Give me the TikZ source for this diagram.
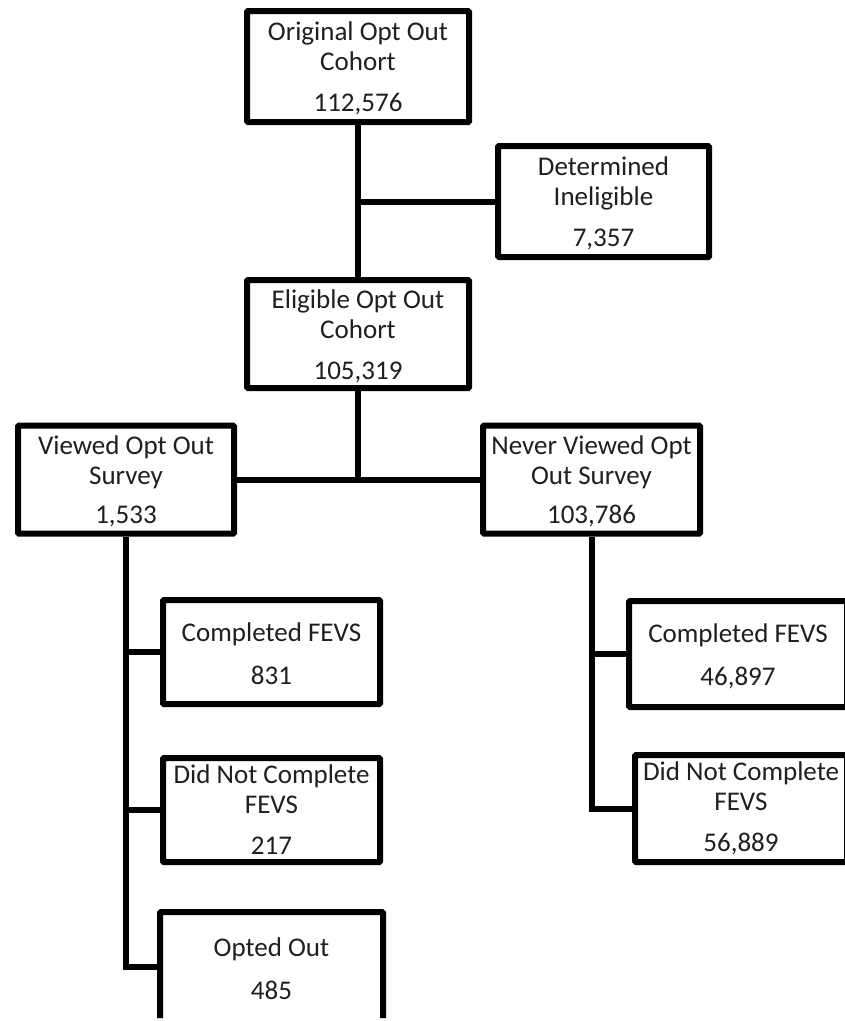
\documentclass[tikz,border=0pt]{standalone}
\usepackage{fontspec}
\setmainfont{Carlito}
\newcommand{\toppad}{\mbox{}\\[-7pt]}
\begin{document}
\begin{tikzpicture}[x=1pt,y=-1pt,
  box/.style={draw=black, line width=6pt, rounded corners=1pt, fill=white,
    inner sep=0pt, align=center, text=black!88,
    font=\fontsize{27}{30}\selectfont},
  nobox/.style={box, draw=none, fill=none},
  link/.style={draw=black, line width=6pt, line join=miter}]
\useasboundingbox (0,0) rectangle (845,1021);
\clip (0,0) rectangle (845,1021);
% nodes
\node[box, minimum width=222pt, minimum height=111pt] (orig) at (358,66.5)
  {\toppad Original Opt Out\\Cohort\\[11pt]112,576};
\node[box, minimum width=211pt, minimum height=111pt] (det) at (603.5,201.5)
  {\toppad Determined\\Ineligible\\[11pt]7,357};
\node[box, minimum width=222pt, minimum height=108pt] (elig) at (358,334)
  {\toppad Eligible Opt Out\\Cohort\\[11pt]105,319};
\node[box, minimum width=216pt, minimum height=108pt] (viewed) at (126,479.5)
  {\toppad Viewed Opt Out\\Survey\\[9pt]1,533};
\node[box, minimum width=217pt, minimum height=108pt] (never) at (591.5,479.5)
  {\toppad Never Viewed Opt\\Out Survey\\[9pt]103,786};
\node[box, minimum width=217pt, minimum height=104pt] (lc) at (271.5,652)
  {\toppad Completed FEVS\\[13pt]831};
\node[box, minimum width=217pt, minimum height=104pt] (ld) at (271.5,810)
  {Did Not Complete\\FEVS\\[11pt]217};
\node[nobox, minimum width=217pt, minimum height=104pt] (lo) at (271.5,967)
  {\toppad Opted Out\\[13pt]485};
\node[box, minimum width=218pt, minimum height=106pt] (rc) at (738,654)
  {\toppad Completed FEVS\\[13pt]46,897};
\node[box, minimum width=212pt, minimum height=107pt] (rd) at (741,808.5)
  {Did Not Complete\\FEVS\\[11pt]56,889};
\draw[draw=black, line width=6pt, rounded corners=1pt]
  ([yshift=4pt]lo.south west) -- (lo.north west) -- (lo.north east) -- ([yshift=4pt]lo.south east);
% connectors
\draw[link] (orig.south) -- (elig.north);
\draw[link] (det.west) -- (det.west -| orig.south);
\draw[link] (elig.south) -- (elig.south |- viewed.east);
\draw[link] (viewed.east) -- (never.west);
\draw[link] (viewed.south) |- (lo.west);
\draw[link] (lc.west) -- (lc.west -| viewed.south);
\draw[link] (ld.west) -- (ld.west -| viewed.south);
\draw[link] (never.south) |- (rd.west);
\draw[link] (rc.west) -- (rc.west -| never.south);
\end{tikzpicture}
\end{document}
